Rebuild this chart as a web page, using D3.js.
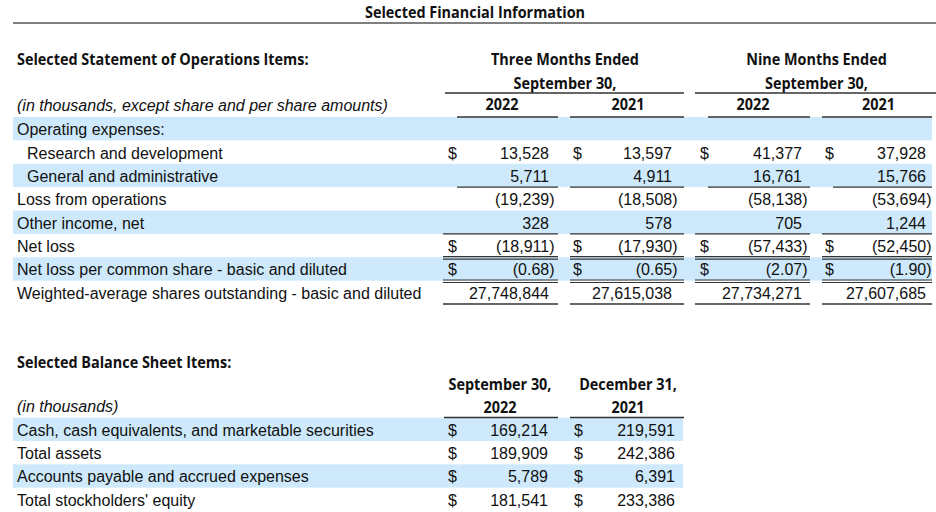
<!DOCTYPE html>
<html><head><meta charset="utf-8">
<script src="https://cdn.jsdelivr.net/npm/d3@7"></script>
<style>body{margin:0;background:#fff}</style>
</head><body><svg id="c" width="936" height="512"></svg>
<script>
// ---------- data ----------
const title = "Selected Financial Information";
const opsHeading = "Selected Statement of Operations Items:";
const opsUnits = "(in thousands, except share and per share amounts)";
const periodGroups = ["Three Months Ended", "Nine Months Ended"];
const periodSubtitle = "September 30,";
const periodYears = ["2022", "2021", "2022", "2021"];
const opsLabels = [
  "Operating expenses:",
  "Research and development",
  "General and administrative",
  "Loss from operations",
  "Other income, net",
  "Net loss",
  "Net loss per common share - basic and diluted",
  "Weighted-average shares outstanding - basic and diluted"
];
const opsIndented = [false, true, true, false, false, false, false, false];
const opsHasDollar = [false, true, false, false, false, true, true, false];
const threeMonths2022 = [null, 13528, 5711, -19239, 328, -18911, -0.68, 27748844];
const threeMonths2021 = [null, 13597, 4911, -18508, 578, -17930, -0.65, 27615038];
const nineMonths2022  = [null, 41377, 16761, -58138, 705, -57433, -2.07, 27734271];
const nineMonths2021  = [null, 37928, 15766, -53694, 1244, -52450, -1.90, 27607685];

const balanceHeading = "Selected Balance Sheet Items:";
const balanceUnits = "(in thousands)";
const balanceDates = ["September 30,", "December 31,"];
const balanceYears = ["2022", "2021"];
const balanceLabels = [
  "Cash, cash equivalents, and marketable securities",
  "Total assets",
  "Accounts payable and accrued expenses",
  "Total stockholders' equity"
];
const balanceSep2022 = [169214, 189909, 5789, 181541];
const balanceDec2021 = [219591, 242386, 6391, 233386];

// ---------- layout ----------
const svg = d3.select("#c");
const BODY = "'Liberation Sans', Arial, sans-serif";
const BOLD = "'Open Sans', 'DejaVu Sans', sans-serif";
const BAND = "#cde9fb";
const INK = "#111";
const RULE = "#333";
const opsCols = [threeMonths2022, threeMonths2021, nineMonths2022, nineMonths2021];
const opsRules = ["", "", "short", "", "full", "double", "double", "full"];
const perShareRow = 6;

const yOps = d3.scaleBand().domain(d3.range(opsLabels.length)).range([117, 304]);
const yBal = d3.scaleBand().domain(d3.range(balanceLabels.length)).range([417.7, 511]);
const opsValueX = d3.scaleOrdinal().domain(d3.range(4)).range([549, 672, 802, 926]);
const opsDollarX = d3.scaleOrdinal().domain(d3.range(4)).range([448, 573, 700, 825]);
const opsFullRule = d3.scaleOrdinal().domain(d3.range(4)).range([[443, 558], [570, 684], [695, 810], [822, 932]]);
const opsShortRule = d3.scaleOrdinal().domain(d3.range(4)).range([[457, 558], [570, 684], [708, 810], [833, 932]]);
const opsYearRule = d3.scaleOrdinal().domain(d3.range(4)).range([[457, 558], [570, 684], [708, 810], [822, 932]]);
const opsYearX = d3.scaleOrdinal().domain(d3.range(4)).range([502, 628, 753, 878.5]);
const groupX = d3.scaleOrdinal().domain(d3.range(2)).range([565, 816.5]);
const groupRule = d3.scaleOrdinal().domain(d3.range(2)).range([[445, 684], [695, 936]]);
const balValueX = d3.scaleOrdinal().domain(d3.range(2)).range([548, 675]);
const balDollarX = d3.scaleOrdinal().domain(d3.range(2)).range([448, 574]);
const balHeadX = d3.scaleOrdinal().domain(d3.range(2)).range([500, 628]);
const balRule = d3.scaleOrdinal().domain(d3.range(2)).range([[444, 558], [570, 684]]);

function fmt(v, perShare) {
  if (v == null) return "";
  const s = perShare ? d3.format(".2f")(Math.abs(v)) : d3.format(",")(Math.abs(v));
  return v < 0 ? "(" + s + ")" : s;
}
function hline(x0, x1, y, w, color) {
  svg.append("line").attr("x1", x0).attr("x2", x1).attr("y1", y).attr("y2", y)
    .attr("stroke", color || RULE).attr("stroke-width", w || 1.4);
}
function boldText(t, x, y, anchor) {
  const el = svg.append("text").text(t).attr("x", x).attr("y", y)
    .attr("text-anchor", anchor || "middle").attr("font-family", BOLD)
    .attr("font-weight", 700).attr("font-size", 16).attr("fill", INK);
  const w = el.node().getComputedTextLength();
  el.attr("textLength", w * 0.9).attr("lengthAdjust", "spacingAndGlyphs");
  return el;
}
function bodyText(t, x, y, anchor, italic) {
  return svg.append("text").text(t).attr("x", x).attr("y", y)
    .attr("text-anchor", anchor || "start").attr("font-family", BODY)
    .attr("font-style", italic ? "italic" : "normal")
    .attr("font-size", 16).attr("fill", INK);
}

// ---------- title ----------
boldText(title, 475, 17.5);
hline(13, 936, 23, 1.6, "#555");

// ---------- operations table ----------
svg.selectAll("rect.opsband").data(d3.range(opsLabels.length).filter(i => i % 2 === 0))
  .enter().append("rect").attr("class", "opsband")
  .attr("x", 13).attr("width", 932 - 13)
  .attr("y", i => yOps(i)).attr("height", yOps.bandwidth()).attr("fill", BAND);

boldText(opsHeading, 17, 65, "start");
periodGroups.forEach((g, k) => {
  boldText(g, groupX(k), 65);
  boldText(periodSubtitle, groupX(k), 89);
  const r = groupRule(k); hline(r[0], r[1], 93);
});
periodYears.forEach((y, c) => {
  boldText(y, opsYearX(c), 109.5);
  const r = opsYearRule(c); hline(r[0], r[1], 117);
});
bodyText(opsUnits, 17, 111, "start", true);

opsLabels.forEach((lab, i) => {
  const base = yOps(i) + yOps.bandwidth() - 5.2;
  bodyText(lab, opsIndented[i] ? 27 : 17, base);
  opsCols.forEach((col, c) => {
    const v = col[i];
    if (v == null) return;
    if (opsHasDollar[i]) bodyText("$", opsDollarX(c), base);
    bodyText(fmt(v, i === perShareRow), opsValueX(c) + (v < 0 ? 5.5 : 0), base, "end");
    const yb = yOps(i) + yOps.bandwidth();
    const kind = opsRules[i];
    if (kind === "short") { const r = opsShortRule(c); hline(r[0], r[1], yb); }
    else if (kind === "full") { const r = opsFullRule(c); hline(r[0], r[1], yb); }
    else if (kind === "double") { const r = opsFullRule(c); hline(r[0], r[1], yb - 0.6, 1.1); hline(r[0], r[1], yb + 1.9, 1.1); }
  });
});

// ---------- balance sheet ----------
svg.selectAll("rect.balband").data(d3.range(balanceLabels.length).filter(i => i % 2 === 0))
  .enter().append("rect").attr("class", "balband")
  .attr("x", 13).attr("width", 683 - 13)
  .attr("y", i => yBal(i)).attr("height", yBal.bandwidth()).attr("fill", BAND);

boldText(balanceHeading, 17, 368, "start");
balanceDates.forEach((d, k) => {
  boldText(d, balHeadX(k), 389.5);
  boldText(balanceYears[k], balHeadX(k), 412.5);
  const r = balRule(k); hline(r[0], r[1], 417.5);
});
bodyText(balanceUnits, 17, 411.5, "start", true);

const balCols = [balanceSep2022, balanceDec2021];
balanceLabels.forEach((lab, i) => {
  const base = yBal(i) + yBal.bandwidth() - 5.2;
  bodyText(lab, 17, base);
  balCols.forEach((col, c) => {
    bodyText("$", balDollarX(c), base);
    bodyText(fmt(col[i], false), balValueX(c), base, "end");
  });
});
</script></body></html>
